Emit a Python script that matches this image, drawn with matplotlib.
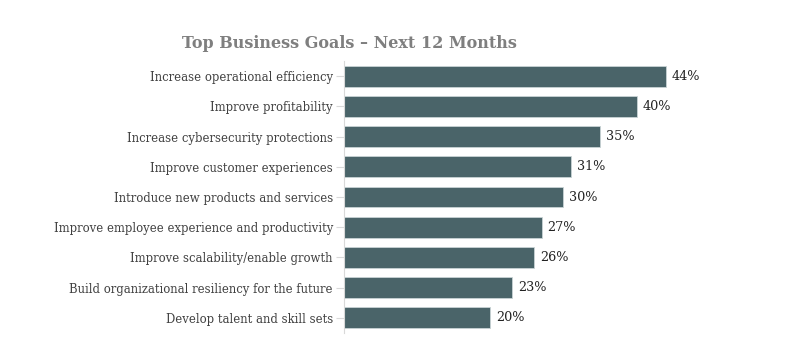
import matplotlib.pyplot as plt

goals = [
    "Increase operational efficiency",
    "Improve profitability",
    "Increase cybersecurity protections",
    "Improve customer experiences",
    "Introduce new products and services",
    "Improve employee experience and productivity",
    "Improve scalability/enable growth",
    "Build organizational resiliency for the future",
    "Develop talent and skill sets",
]
shares = [44, 40, 35, 31, 30, 27, 26, 23, 20]
value_labels = [f"{v}%" for v in shares]

plt.rcParams["font.family"] = ["DejaVu Serif"]

fig = plt.figure(figsize=(8.04, 3.64), dpi=100)
ax = fig.add_axes([344 / 804, 31 / 364, 439 / 804, 272 / 364])

pos = list(range(len(goals)))
ax.barh(pos, shares, height=0.69, color="#4a6469", edgecolor="#c9d3d5", linewidth=0.6)

for p, v, lab in zip(pos, shares, value_labels):
    ax.text(v + 0.8, p, lab, va="center", ha="left", fontsize=9.2, color="#222222")

ax.set_yticks(pos)
ax.set_yticklabels(goals, fontsize=8.4, color="#404040")
ax.set_ylim(len(goals) - 0.5, -0.5)
ax.set_xlim(0, 60)
ax.set_xticks([])
for s in ["top", "right", "bottom"]:
    ax.spines[s].set_visible(False)
ax.spines["left"].set_color("#d9d9d9")
ax.tick_params(axis="y", length=6, color="#d9d9d9", pad=2)

fig.text(349 / 804, 1 - 43 / 364, "Top Business Goals \u2013 Next 12 Months",
         ha="center", va="center", fontsize=11.5, fontweight="bold", color="#7f7f7f")

fig.savefig("out.png", dpi=100)
